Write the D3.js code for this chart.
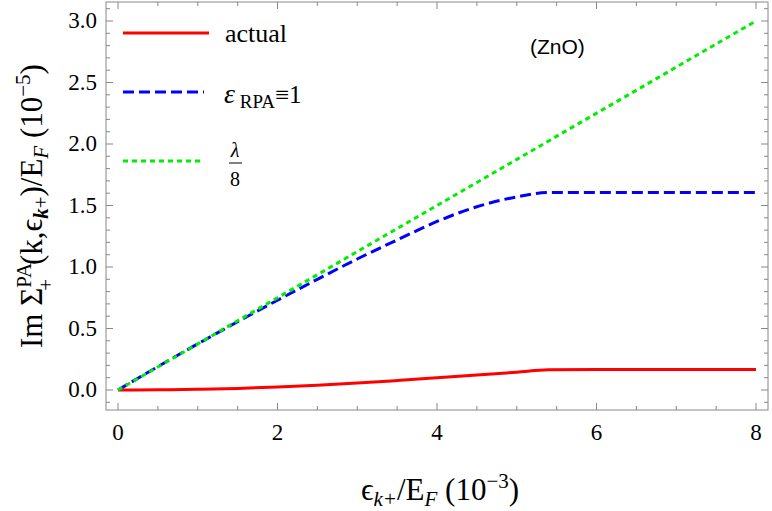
<!DOCTYPE html><html><head><meta charset="utf-8">
<script src="https://cdn.jsdelivr.net/npm/d3@7"></script>
<style>body{margin:0;background:#fff}svg text{font-family:'Liberation Serif','Times New Roman','DejaVu Serif',serif}</style></head><body>
<svg id="c" width="772" height="511"></svg>
<script>
const xs=[0,0.5,1,1.5,2,2.5,3,3.5,4,4.5,5,5.4,6,7,8];
const actual=[0,0.002,0.006,0.013,0.024,0.038,0.056,0.077,0.099,0.121,0.145,0.165,0.167,0.167,0.167];
const rpa=[0,0.19,0.375,0.555,0.73,0.9,1.065,1.22,1.37,1.49,1.57,1.605,1.605,1.605,1.605];
const lam=[0,0.1875,0.375,0.5625,0.75,0.9375,1.125,1.3125,1.5,1.6875,1.875,2.025,2.25,2.625,3.0];
const xTicks=[0,2,4,6,8], yTicks=[0,0.5,1,1.5,2,2.5,3];
const svg=d3.select("#c");
const L=106,R=768,T=2,B=410;
const x=d3.scaleLinear().domain([0,8]).range([118,756]);
const y=d3.scaleLinear().domain([0,3]).range([390,21]);
svg.append("rect").attr("x",L).attr("y",T).attr("width",R-L).attr("height",B-T).attr("fill","none").attr("stroke","#888").attr("stroke-width",1);
const g=svg.append("g").attr("stroke","#888");
d3.range(0,8.01,0.5).forEach(v=>{const maj=v%2===0,l=maj?7:4;
 g.append("line").attr("x1",x(v)).attr("x2",x(v)).attr("y1",B).attr("y2",B-l);
 g.append("line").attr("x1",x(v)).attr("x2",x(v)).attr("y1",T).attr("y2",T+l);});
d3.range(-0.1,3.15,0.1).forEach(v=>{v=Math.round(v*10)/10;const maj=Math.abs(v*2-Math.round(v*2))<1e-6,l=maj?7:4;
 g.append("line").attr("y1",y(v)).attr("y2",y(v)).attr("x1",L).attr("x2",L+l);
 g.append("line").attr("y1",y(v)).attr("y2",y(v)).attr("x1",R).attr("x2",R-l);});
xTicks.forEach(v=>svg.append("text").attr("x",x(v)).attr("y",440).attr("text-anchor","middle").attr("font-size",23).text(v));
yTicks.forEach(v=>svg.append("text").attr("x",97).attr("y",y(v)+7).attr("text-anchor","end").attr("font-size",23).text(v.toFixed(1)));
const line=arr=>d3.line().curve(d3.curveMonotoneX).x((d,i)=>x(xs[i])).y(d=>y(d))(arr);
svg.append("path").attr("d",line(actual)).attr("fill","none").attr("stroke","#ff0000").attr("stroke-width",3);
svg.append("path").attr("d",line(rpa)).attr("fill","none").attr("stroke","#0000ff").attr("stroke-width",3).attr("stroke-dasharray","11,5");
svg.append("path").attr("d",line(lam)).attr("fill","none").attr("stroke","#00ee00").attr("stroke-width",3).attr("stroke-dasharray","5,4");
// legend
svg.append("line").attr("x1",123).attr("x2",209).attr("y1",33).attr("y2",33).attr("stroke","#ff0000").attr("stroke-width",3);
svg.append("text").attr("x",225).attr("y",42).attr("font-size",26).text("actual");
svg.append("line").attr("x1",123).attr("x2",204).attr("y1",92).attr("y2",92).attr("stroke","#0000ff").attr("stroke-width",3).attr("stroke-dasharray","11,5");
const t2=svg.append("text").attr("x",224).attr("y",103).attr("font-size",28);
t2.append("tspan").attr("font-style","italic").text("ε");
t2.append("tspan").attr("font-size",19).attr("dy",5).text(" RPA");
t2.append("tspan").attr("dy",-5).attr("font-size",25).text("≡1");
svg.append("line").attr("x1",123).attr("x2",204).attr("y1",161).attr("y2",161).attr("stroke","#00ee00").attr("stroke-width",3).attr("stroke-dasharray","5,4");
svg.append("text").attr("x",235).attr("y",157).attr("font-size",20).attr("text-anchor","middle").attr("font-style","italic").text("λ");
svg.append("line").attr("x1",229).attr("x2",242).attr("y1",163).attr("y2",163).attr("stroke","#000").attr("stroke-width",1);
svg.append("text").attr("x",235).attr("y",186).attr("font-size",20).attr("text-anchor","middle").text("8");
svg.append("text").attr("x",530).attr("y",54).style("font-family","'Liberation Sans',Arial,sans-serif").attr("font-size",21).text("(ZnO)");
// axis labels
const xl=svg.append("text").attr("x",440).attr("y",500).attr("text-anchor","middle").attr("font-size",31);
xl.append("tspan").text("ϵ");xl.append("tspan").attr("font-size",21).attr("dy",6).attr("font-style","italic").text("k+");
xl.append("tspan").attr("dy",-6).text("/E");xl.append("tspan").attr("font-size",21).attr("dy",6).attr("font-style","italic").text("F");
xl.append("tspan").attr("dy",-6).text(" (10");xl.append("tspan").attr("font-size",21).attr("dy",-12).text("−3");
xl.append("tspan").attr("dy",12).text(")");
const yl=svg.append("text").attr("transform","translate(42,206) rotate(-90)").attr("text-anchor","middle").attr("font-size",31);
yl.append("tspan").text("Im Σ");
yl.append("tspan").attr("font-size",21).attr("dy",-11).text("PA");
yl.append("tspan").attr("font-size",21).attr("dx",-28).attr("dy",22).text("+");
yl.append("tspan").attr("dx",14).attr("dy",-11).text("(k,ϵ");
yl.append("tspan").attr("font-size",21).attr("dy",6).attr("font-style","italic").attr("font-weight","bold").text("k");
yl.append("tspan").attr("font-size",21).text("+");
yl.append("tspan").attr("dy",-6).text(")/E");
yl.append("tspan").attr("font-size",21).attr("dy",6).attr("font-style","italic").text("F");
yl.append("tspan").attr("dy",-6).text(" (10");
yl.append("tspan").attr("font-size",21).attr("dy",-12).text("−5");
yl.append("tspan").attr("dy",12).text(")");
</script></body></html>
